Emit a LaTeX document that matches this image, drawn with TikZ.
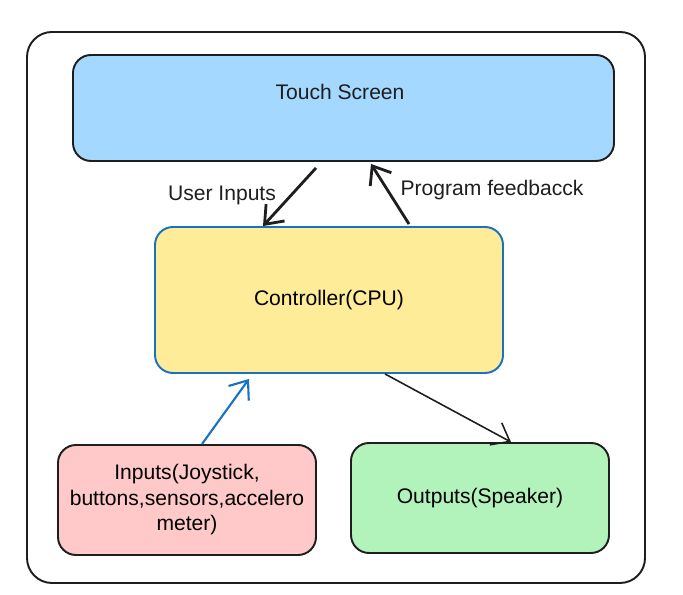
\documentclass[tikz,border=0pt]{standalone}
\usepackage{fontspec}
\setmainfont{Liberation Sans}
\usetikzlibrary{positioning, arrows.meta}
\definecolor{inkblack}{HTML}{1E1E1E}
\definecolor{screenblue}{HTML}{A5D8FF}
\definecolor{cpuyellow}{HTML}{FFEC99}
\definecolor{cpuborder}{HTML}{1971C2}
\definecolor{inred}{HTML}{FFC9C9}
\definecolor{outgreen}{HTML}{B2F2BB}

\begin{document}
\begin{tikzpicture}
    % Stili per i blocchi
    \tikzset{
        block/.style={
            draw=inkblack, % Bordo
            line width=1.1pt,
            rounded corners=0.36cm,
            align=center, % Testo centrato
            font=\fontsize{12}{14.5}\selectfont,
            inner sep=0pt
        },
        frame_box/.style={
            draw=inkblack,
            line width=1.1pt,
            rounded corners=0.5cm
        },
        label_text/.style={
            font=\fontsize{12}{14}\selectfont,
            text=inkblack
        },
        flow/.style={
            draw=inkblack,
            -{Straight Barb[length=3.2mm,width=5mm]}
        }
    }

    \useasboundingbox (0,0) rectangle (13.66,11.9);

    % Cornice esterna
    \node[frame_box, minimum width=12.36cm, minimum height=11.02cm] (frame) at (6.72,5.75) {};

    % Blocchi
    \node[block, fill=screenblue, minimum width=10.82cm, minimum height=2.12cm] (touch) at (6.87,9.74) {};
    \node[label_text] (touch_text) at (6.80,10.06) {Touch Screen};

    \node[block, draw=cpuborder, fill=cpuyellow, minimum width=6.96cm, minimum height=2.92cm] (cpu) at (6.58,5.90) {Controller(CPU)};

    \node[block, fill=inred, minimum width=5.16cm, minimum height=2.2cm] (inputs) at (3.74,1.90) {Inputs(Joystick,\\buttons,sensors,accelero\\meter)};

    \node[block, fill=outgreen, minimum width=5.16cm, minimum height=2.2cm] (outputs) at (9.60,1.94) {Outputs(Speaker)};

    % Etichette delle frecce
    \node[label_text] (user_label) at (4.44,8.00) {User Inputs};
    \node[label_text] (feedback_label) at (9.84,8.10) {Program feedbacck};

    % Collegamenti
    \draw[flow, line width=1.6pt] ([xshift=-0.55cm,yshift=-0.12cm]touch.south) -- ([xshift=-1.32cm]cpu.north);
    \draw[flow, line width=1.6pt] ([xshift=1.60cm,yshift=0.04cm]cpu.north) -- ([xshift=0.55cm,yshift=-0.04cm]touch.south);
    \draw[flow, draw=cpuborder, line width=1.2pt] ([xshift=0.30cm]inputs.north) -- ([xshift=-1.60cm,yshift=-0.10cm]cpu.south);
    \draw[flow, line width=0.9pt] ([xshift=1.12cm]cpu.south) -- ([xshift=0.62cm]outputs.north);

\end{tikzpicture}
\end{document}
